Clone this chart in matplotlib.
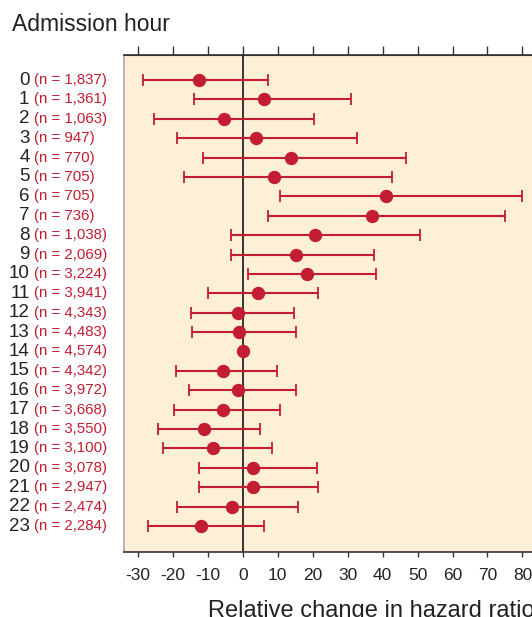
import numpy as np
import matplotlib
matplotlib.use('Agg')
import matplotlib.pyplot as plt
import matplotlib.transforms as mtransforms

# --- DATA ---
hours = list(range(24))
n_counts = ['1,837', '1,361', '1,063', '947', '770', '705', '705', '736',
            '1,038', '2,069', '3,224', '3,941', '4,343', '4,483', '4,574',
            '4,342', '3,972', '3,668', '3,550', '3,100', '3,078', '2,947',
            '2,474', '2,284']
estimate = [-12.4, 6.1, -5.3, 3.8, 13.8, 9.0, 40.9, 36.9, 20.6, 15.1, 18.3, 4.4,
            -1.3, -1.1, 0.0, -5.8, -1.5, -5.7, -11.0, -8.6, 2.9, 3.0, -3.1, -12.0]
lower = [-28.5, -14.1, -25.5, -18.8, -11.4, -16.9, 10.5, 7.2, -3.3, -3.3, 1.6, -10.1,
         -14.9, -14.6, np.nan, -19.1, -15.4, -19.7, -24.2, -22.7, -12.5, -12.4, -18.8, -27.0]
upper = [7.3, 31.0, 20.3, 32.6, 46.8, 42.8, 79.9, 75.0, 50.8, 37.4, 38.0, 21.5,
         14.6, 15.2, np.nan, 9.7, 15.2, 10.7, 4.9, 8.4, 21.3, 21.5, 15.8, 6.1]
x_ticks = list(range(-30, 81, 10))

# --- STYLE ---
RED = '#c21d30'
BG = '#fdf0d6'
TXT = '#222222'
plt.rcParams['font.family'] = ['Liberation Sans', 'DejaVu Sans']

W, H = 532, 617
fig = plt.figure(figsize=(W / 100, H / 100), dpi=100)

# axes in pixels: left 124, top 55, bottom 552; right edge runs past the image
x_min, x_max = -34, 91
px_per_unit = 3.495
ax_left, ax_top, ax_bottom = 124, 55, 552
ax_width = (x_max - x_min) * px_per_unit
ax = fig.add_axes([ax_left / W, 1 - ax_bottom / H, ax_width / W, (ax_bottom - ax_top) / H])
ax.set_facecolor(BG)

y = np.array(hours)
est = np.array(estimate)
err = np.array([est - np.array(lower), np.array(upper) - est])

ax.errorbar(est, y, xerr=err, fmt='none', ecolor=RED, elinewidth=1.5,
            capsize=4.3, capthick=1.3, zorder=3)
ax.plot(est, y, 'o', color=RED, markersize=8.6, zorder=4)
ax.axvline(0, color='black', lw=1.1, zorder=2)

ax.set_xlim(x_min, x_max)
ax.set_ylim(23 + 1.34, -1.29)
ax.set_yticks([])
ax.set_xticks(x_ticks)
ax.set_xticklabels([str(t) for t in x_ticks], fontsize=12.5, color=TXT)
ax.tick_params(axis='x', direction='out', length=3.8, width=1, color='#333333', pad=8)

# top ticks (longer, no labels)
top = ax.secondary_xaxis('top')
top.set_xticks(x_ticks)
top.set_xticklabels([])
top.tick_params(direction='out', length=6.5, width=1, color='#333333')
top.spines['top'].set_color('#333333')

ax.spines['left'].set_color('#aaaaaa')
ax.spines['bottom'].set_color('#333333')
ax.spines['top'].set_color('#333333')
for s in ax.spines.values():
    s.set_linewidth(1.2)

# row labels: hour in dark, count in red
trans = mtransforms.blended_transform_factory(fig.transFigure, ax.transData)
for h, n in zip(hours, n_counts):
    ax.text(29.5 / W, h, str(h), transform=trans, ha='right', va='center',
            fontsize=13.5, color=TXT, clip_on=False)
    ax.text(34.5 / W, h, f'(n = {n})', transform=trans, ha='left', va='center',
            fontsize=10.8, color=RED, clip_on=False)

fig.text(12 / W, 1 - 31 / H, 'Admission hour', ha='left', va='baseline',
         fontsize=16.5, color=TXT)
# the reference crops this label at the right and bottom edges
fig.text(208 / W, 1 - 617.5 / H, 'Relative change in hazard ratio', ha='left',
         va='baseline', fontsize=17, color=TXT)

fig.savefig('out.png', dpi=100)
